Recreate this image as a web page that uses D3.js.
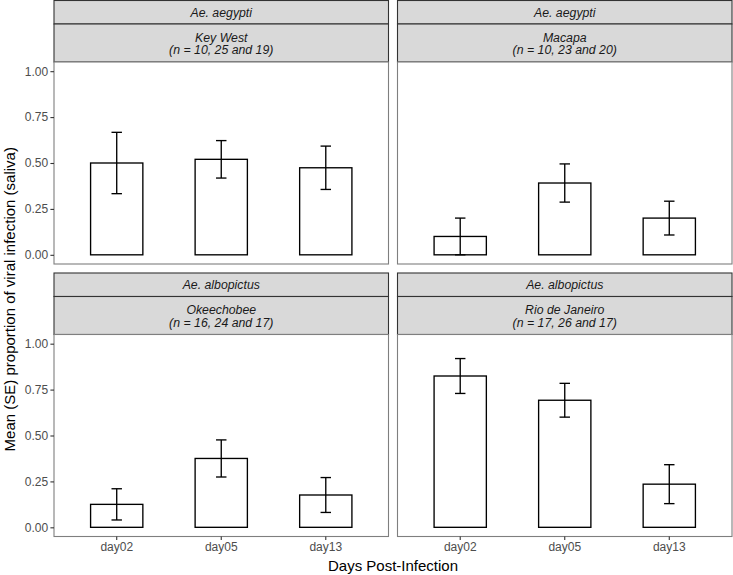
<!DOCTYPE html>
<html><head><meta charset="utf-8">
<script src="https://cdn.jsdelivr.net/npm/d3@7"></script>
<style>body{margin:0;background:#fff}svg{display:block;font-family:"Liberation Sans",Arial,sans-serif}</style>
</head><body><svg id="c" width="733" height="575"></svg>
<script>
const days = ["day02","day05","day13"];
const species = ["Ae. aegypti","Ae. aegypti","Ae. albopictus","Ae. albopictus"];
const sites = ["Key West","Macapa","Okeechobee","Rio de Janeiro"];
const nLabels = ["(n = 10, 25 and 19)","(n = 10, 23 and 20)","(n = 16, 24 and 17)","(n = 17, 26 and 17)"];
const meanKeyWest = [0.500, 0.520, 0.474];
const seKeyWest = [0.167, 0.102, 0.118];
const meanMacapa = [0.100, 0.391, 0.200];
const seMacapa = [0.100, 0.104, 0.092];
const meanOkeechobee = [0.125, 0.375, 0.176];
const seOkeechobee = [0.085, 0.101, 0.095];
const meanRio = [0.824, 0.692, 0.235];
const seRio = [0.095, 0.092, 0.106];
const yTicks = [0, 0.25, 0.5, 0.75, 1];

const means = [meanKeyWest, meanMacapa, meanOkeechobee, meanRio];
const ses = [seKeyWest, seMacapa, seOkeechobee, seRio];

const svg = d3.select("#c");
const left = 54, right = 732, gap = 9;
const pw = (right - left - gap) / 2;
const s1 = 23.5, s2 = 38, ph = 202, top0 = 0.5;
const rowTop = r => top0 + r * (s1 + s2 + ph + gap);
const tickFont = 12, stripFont = 12.3, titleFont = 15;

const y0 = d3.scaleLinear().domain([-0.05, 1.05]);
for (let i = 0; i < 4; i++) {
  const r = Math.floor(i / 2), c = i % 2;
  const x0 = left + c * (pw + gap);
  const t = rowTop(r);
  const pTop = t + s1 + s2, pBot = pTop + ph;
  const g = svg.append("g");
  // strips
  g.append("rect").attr("x", x0).attr("y", t).attr("width", pw).attr("height", s1)
    .attr("fill", "#d9d9d9").attr("stroke", "#333").attr("stroke-width", 1.1);
  g.append("rect").attr("x", x0).attr("y", t + s1).attr("width", pw).attr("height", s2)
    .attr("fill", "#d9d9d9").attr("stroke", "#333").attr("stroke-width", 1.1);
  const st = g.append("g").attr("font-style", "italic").attr("font-size", stripFont).attr("fill", "#1a1a1a").attr("text-anchor", "middle");
  st.append("text").attr("x", x0 + pw / 2).attr("y", t + s1 / 2 + 4.4).text(species[i]);
  st.append("text").attr("x", x0 + pw / 2).attr("y", t + s1 + 17.6).text(sites[i]);
  st.append("text").attr("x", x0 + pw / 2).attr("y", t + s1 + 30.4).text(nLabels[i]);
  // scales
  const x = d3.scaleBand().domain(days).range([x0, x0 + pw]).paddingOuter(0.1).paddingInner(0);
  const y = y0.copy().range([pBot, pTop]);
  // panel bg
  g.append("rect").attr("x", x0).attr("y", pTop).attr("width", pw).attr("height", ph).attr("fill", "#fff");
  // bars
  const data = days.map((d, k) => ({d, m: means[i][k], se: ses[i][k]}));
  const cx = d => x(d) + x.bandwidth() / 2;
  const bw = x.bandwidth() * 0.5;
  g.selectAll(".bar").data(data).join("rect")
    .attr("x", d => cx(d.d) - bw / 2).attr("width", bw)
    .attr("y", d => y(d.m)).attr("height", d => y(0) - y(d.m))
    .attr("fill", "#fff").attr("stroke", "#000").attr("stroke-width", 1.35);
  const cw = x.bandwidth() * 0.05;
  const eb = g.selectAll(".eb").data(data).join("g").attr("stroke", "#000").attr("stroke-width", 1.35);
  eb.append("line").attr("x1", d => cx(d.d)).attr("x2", d => cx(d.d)).attr("y1", d => y(d.m - d.se)).attr("y2", d => y(d.m + d.se));
  eb.append("line").attr("x1", d => cx(d.d) - cw).attr("x2", d => cx(d.d) + cw).attr("y1", d => y(d.m - d.se)).attr("y2", d => y(d.m - d.se));
  eb.append("line").attr("x1", d => cx(d.d) - cw).attr("x2", d => cx(d.d) + cw).attr("y1", d => y(d.m + d.se)).attr("y2", d => y(d.m + d.se));
  // border
  g.append("rect").attr("x", x0).attr("y", pTop).attr("width", pw).attr("height", ph)
    .attr("fill", "none").attr("stroke", "#7f7f7f").attr("stroke-width", 1.1);
  // y axis
  if (c === 0) {
    const ya = g.append("g").attr("transform", `translate(${x0},0)`)
      .call(d3.axisLeft(y).tickValues(yTicks).tickFormat(d3.format(".2f")).tickSizeOuter(0).tickSize(3.6).tickPadding(2.2));
    ya.select(".domain").remove();
    ya.selectAll("line").attr("stroke", "#333").attr("stroke-width", 1.1);
    ya.selectAll("text").attr("fill", "#4d4d4d").attr("font-size", tickFont).attr("font-family", "Liberation Sans, Arial, sans-serif");
  }
  if (r === 1) {
    const xa = g.append("g").attr("transform", `translate(0,${pBot})`)
      .call(d3.axisBottom(x).tickSizeOuter(0).tickSize(3.6).tickPadding(2.5));
    xa.select(".domain").remove();
    xa.selectAll("line").attr("stroke", "#333").attr("stroke-width", 1.1);
    xa.selectAll("text").attr("fill", "#4d4d4d").attr("font-size", tickFont).attr("font-family", "Liberation Sans, Arial, sans-serif");
  }
}
svg.append("text").attr("x", left + (right - left) / 2).attr("y", 571).attr("text-anchor", "middle")
  .attr("font-size", titleFont).attr("fill", "#000").text("Days Post-Infection");
const yMid = (rowTop(0) + s1 + s2 + rowTop(1) + s1 + s2 + ph) / 2;
svg.append("text").attr("transform", `translate(15,${yMid}) rotate(-90)`).attr("text-anchor", "middle")
  .attr("font-size", titleFont).attr("fill", "#000").text("Mean (SE) proportion of viral infection (saliva)");
</script></body></html>
